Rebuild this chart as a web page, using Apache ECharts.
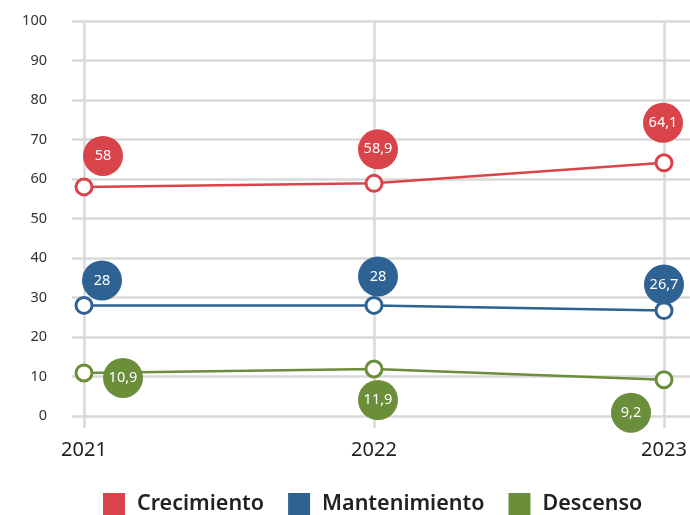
<!DOCTYPE html>
<html>
<head>
<meta charset="utf-8">
<script src="https://cdn.jsdelivr.net/npm/echarts@6/dist/echarts.min.js"></script>
<style>
  html, body { margin: 0; padding: 0; background: #fff; }
  #chart { width: 690px; height: 515px; }
</style>
</head>
<body>
<div id="chart"></div>
<script>
// Years on the horizontal axis
const years = ['2021', '2022', '2023'];

// Share per trend (%)
const crecimiento = [58, 58.9, 64.1];
const mantenimiento = [28, 28, 26.7];
const descenso = [10.9, 11.9, 9.2];

// Value-axis ticks
const yTicks = [0, 10, 20, 30, 40, 50, 60, 70, 80, 90, 100];

// Where each value bubble sits relative to its point (px)
const bubbleOffsets = {
  crecimiento: [[19, -31], [4, -34], [-1, -40]],
  mantenimiento: [[18, -25], [4, -29], [0, -26]],
  descenso: [[39, 5], [4, 31], [-33, 33]]
};

const COLORS = {
  crecimiento: '#d9444a',
  mantenimiento: '#2d6293',
  descenso: '#6b8e3a'
};
const GRID_COLOR = '#d9d9d9';
const FONT = '"Noto Sans", "Open Sans", sans-serif';

function fmt(v) {
  return String(v).replace('.', ',');
}

function makeSeries(name, values, key) {
  const color = COLORS[key];
  return {
    name: name,
    type: 'line',
    xAxisIndex: 1,
    yAxisIndex: 1,
    data: values.map((v, i) => ({
      value: v,
      label: { offset: bubbleOffsets[key][i] }
    })),
    symbol: 'circle',
    symbolSize: 16,
    itemStyle: { color: '#fff', borderColor: color, borderWidth: 3 },
    lineStyle: { color: color, width: 2.5 },
    label: {
      show: true,
      position: 'inside',
      formatter: p => fmt(p.value),
      color: '#fff',
      fontFamily: FONT,
      fontSize: 14.5,
      backgroundColor: color,
      width: 40,
      height: 40,
      lineHeight: 40,
      borderRadius: 20,
      align: 'center',
      verticalAlign: 'middle'
    },
    emphasis: { disabled: true },
    animation: false,
    z: 3
  };
}

const legendNames = ['Crecimiento', 'Mantenimiento', 'Descenso'];
const legendKeys = ['crecimiento', 'mantenimiento', 'descenso'];

const chart = echarts.init(document.getElementById('chart'), null, { renderer: 'canvas' });

chart.setOption({
  backgroundColor: '#fff',
  animation: false,
  grid: [
    { left: 72, right: 0, top: 21, bottom: 99 },
    { left: 84, right: 26, top: 21, bottom: 99 }
  ],
  xAxis: [
    { gridIndex: 0, type: 'value', show: false, min: 0, max: 1 },
    {
      gridIndex: 1,
      type: 'category',
      data: years,
      boundaryGap: false,
      axisLine: { show: false },
      axisTick: { show: true, length: 12, lineStyle: { color: GRID_COLOR, width: 2.5 } },
      splitLine: { show: true, lineStyle: { color: GRID_COLOR, width: 2.5 } },
      axisLabel: { color: '#222', fontFamily: FONT, fontSize: 20, margin: 24 }
    }
  ],
  yAxis: [
    {
      gridIndex: 0,
      type: 'value',
      min: yTicks[0],
      max: yTicks[yTicks.length - 1],
      interval: yTicks[1] - yTicks[0],
      axisLine: { show: false },
      axisTick: { show: false },
      splitLine: { lineStyle: { color: GRID_COLOR, width: 2.5 } },
      axisLabel: { color: '#333', fontFamily: FONT, fontSize: 14.5, margin: 25 }
    },
    {
      gridIndex: 1,
      type: 'value',
      min: yTicks[0],
      max: yTicks[yTicks.length - 1],
      show: false,
      splitLine: { show: false }
    }
  ],
  legend: {
    bottom: 0,
    left: 103,
    padding: 0,
    icon: 'rect',
    itemWidth: 22,
    itemHeight: 22,
    itemGap: 24,
    textStyle: {
      color: '#222',
      fontFamily: FONT,
      fontSize: 21.5,
      fontWeight: 600,
      padding: [0, 0, 0, 7]
    },
    selectedMode: false,
    data: legendNames.map((n, i) => ({
      name: n,
      itemStyle: { color: COLORS[legendKeys[i]], borderWidth: 0 }
    }))
  },
  series: [
    makeSeries('Crecimiento', crecimiento, 'crecimiento'),
    makeSeries('Mantenimiento', mantenimiento, 'mantenimiento'),
    makeSeries('Descenso', descenso, 'descenso')
  ]
});
</script>
</body>
</html>
